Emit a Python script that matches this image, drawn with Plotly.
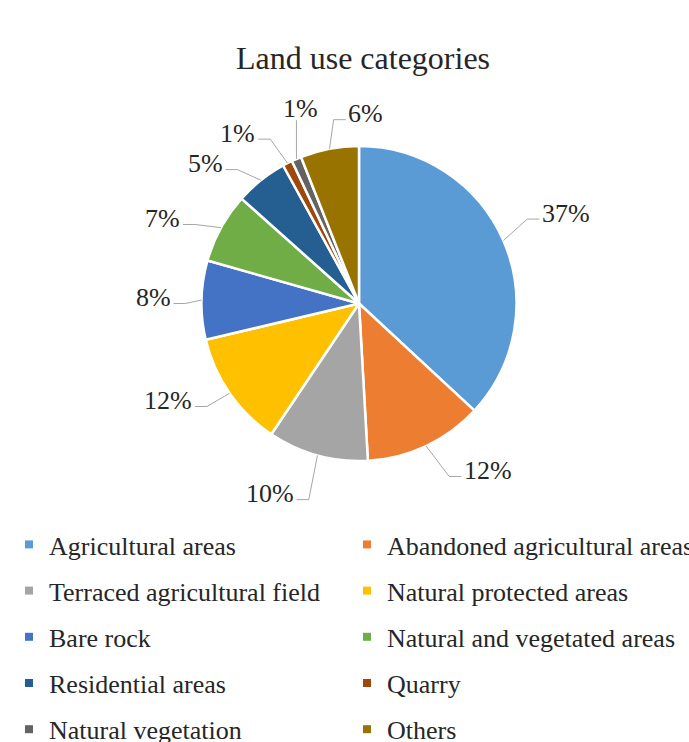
import math
import plotly.graph_objects as go

# ---------------- data ----------------
categories = [
    "Agricultural areas", "Abandoned agricultural areas", "Terraced agricultural field",
    "Natural protected areas", "Bare rock", "Natural and vegetated areas",
    "Residential areas", "Quarry", "Natural vegetation", "Others",
]
shares = [36.9, 12.2, 10.3, 11.9, 8.1, 7.2, 5.4, 1.0, 1.0, 6.0]
colors = ["#5B9BD5", "#ED7D31", "#A5A5A5", "#FFC000", "#4472C4",
          "#70AD47", "#255E91", "#9E480E", "#636363", "#997300"]
title_text = "Land use categories"

# ---------------- layout constants ----------------
W, H = 689, 742
CX, CY, R = 359.0, 303.5, 157.5
FONT = "Liberation Serif"
TXT = "#262626"
LBL_SIZE = 26
# label placement tweaks (angle shift in degrees, radial factor) per slice
label_shift = [0, -12.5, 9.8, 7.8, 0.4, -5.4, -9.2, -8.4, 6.6, 12.9]
label_rad = [1.435, 1.34, 1.333, 1.359, 1.308, 1.359, 1.32, 1.327, 1.295, 1.206]


def px(x):
    return x / W


def py(y):
    return 1 - y / H


fig = go.Figure()
fig.add_trace(go.Pie(
    labels=categories, values=shares, sort=False, direction="clockwise", rotation=0,
    marker=dict(colors=colors, line=dict(color="white", width=2.5)),
    textinfo="none", showlegend=False, hoverinfo="label+percent",
    domain=dict(x=[(CX - R) / W, (CX + R) / W], y=[1 - (CY + R) / H, 1 - (CY - R) / H]),
))

# legend entries (two columns)
for i, (cat, col) in enumerate(zip(categories, colors)):
    fig.add_trace(go.Scatter(
        x=[None], y=[None], mode="markers", name=cat, legendgroup=cat,
        marker=dict(symbol="square", size=8, color=col),
        legend="legend" if i % 2 == 0 else "legend2", showlegend=True, hoverinfo="skip",
    ))

# percentage labels with leader lines
total = sum(shares)
cum = 0.0
annotations = []
shapes = []
for i, v in enumerate(shares):
    mid = (cum + v / 2) / total * 360.0
    cum += v
    ex = CX + R * math.sin(math.radians(mid))
    ey = CY - R * math.cos(math.radians(mid))
    la = mid + label_shift[i]
    lr = R * label_rad[i]
    lx = CX + lr * math.sin(math.radians(la))
    ly = CY - lr * math.cos(math.radians(la))
    txt = f"{round(v / total * 100)}%"
    ndig = len(txt) - 1
    hw = LBL_SIZE * (0.5 * ndig + 0.833) / 2
    annotations.append(dict(
        x=px(lx), y=py(ly), xref="paper", yref="paper", text=txt, showarrow=False,
        xanchor="center", yanchor="middle", font=dict(family=FONT, size=LBL_SIZE, color=TXT),
    ))
    if lx - hw > ex + 2:
        hx, hy = lx - hw - 3, ly + 6
        bx = hx - 12
        pts = [(ex, ey), (bx, hy), (hx, hy)]
    elif lx + hw < ex - 2:
        hx, hy = lx + hw + 3, ly + 6
        bx = hx + 12
        pts = [(ex, ey), (bx, hy), (hx, hy)]
    else:
        pts = [(ex, ey), (ex, ly + 12)]
    path = "M " + " L ".join(f"{px(a):.5f},{py(b):.5f}" for a, b in pts)
    shapes.append(dict(type="path", path=path, xref="paper", yref="paper",
                       line=dict(color="#A6A6A6", width=1)))

legend_common = dict(
    orientation="v", xanchor="left", yanchor="top", bgcolor="rgba(0,0,0,0)",
    borderwidth=0, tracegroupgap=9.4, itemclick=False,
    font=dict(family=FONT, size=26, color=TXT),
)

fig.update_layout(
    width=W, height=H,
    font=dict(family=FONT, color=TXT),
    margin=dict(l=0, r=0, t=0, b=0, pad=0, autoexpand=False),
    paper_bgcolor="white", plot_bgcolor="white",
    title=dict(text=title_text, x=363 / W, xanchor="center", y=1 - 58 / H, yanchor="middle",
               xref="paper", yref="container",
               font=dict(family=FONT, size=32, color=TXT)),
    xaxis=dict(visible=False), yaxis=dict(visible=False),
    legend=dict(x=px(9), y=py(521), **legend_common),
    legend2=dict(x=px(347), y=py(521), **legend_common),
    annotations=annotations, shapes=shapes,
)

fig.write_html("out.html")
